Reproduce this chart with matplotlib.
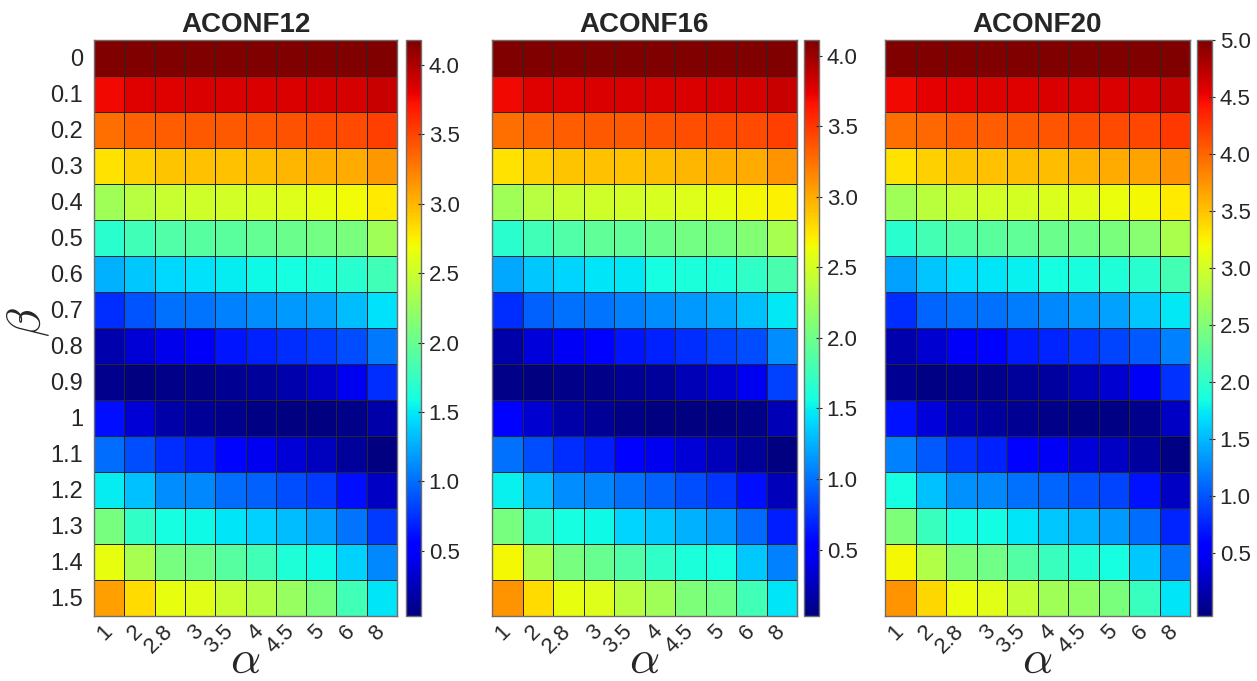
import numpy as np
import matplotlib
matplotlib.use("Agg")
import matplotlib.pyplot as plt

# Axis categories
alpha_labels = ["1", "2", "2.8", "3", "3.5", "4", "4.5", "5", "6", "8"]
beta_labels = ["0", "0.1", "0.2", "0.3", "0.4", "0.5", "0.6", "0.7",
               "0.8", "0.9", "1", "1.1", "1.2", "1.3", "1.4", "1.5"]
titles = ["ACONF12", "ACONF16", "ACONF20"]

# Rows follow beta (top to bottom), columns follow alpha (left to right)
aconf12 = [
    [4.17, 4.17, 4.17, 4.17, 4.18, 4.18, 4.18, 4.18, 4.18, 4.17],
    [3.77, 3.83, 3.83, 3.85, 3.85, 3.85, 3.85, 3.87, 3.87, 3.91],
    [3.31, 3.37, 3.39, 3.41, 3.41, 3.43, 3.45, 3.47, 3.48, 3.52],
    [2.81, 2.89, 2.94, 2.96, 2.96, 2.98, 3.00, 3.03, 3.06, 3.14],
    [2.29, 2.41, 2.48, 2.52, 2.54, 2.56, 2.60, 2.64, 2.69, 2.77],
    [1.69, 1.81, 1.89, 1.92, 1.94, 1.98, 2.02, 2.06, 2.10, 2.29],
    [1.27, 1.36, 1.43, 1.46, 1.52, 1.57, 1.59, 1.63, 1.69, 1.81],
    [0.74, 0.90, 1.01, 1.03, 1.07, 1.13, 1.17, 1.21, 1.32, 1.46],
    [0.20, 0.35, 0.43, 0.47, 0.63, 0.69, 0.74, 0.78, 0.86, 1.05],
    [0.09, 0.04, 0.07, 0.07, 0.11, 0.14, 0.20, 0.29, 0.45, 0.74],
    [0.61, 0.35, 0.18, 0.12, 0.09, 0.05, 0.04, 0.03, 0.07, 0.18],
    [1.00, 0.86, 0.74, 0.67, 0.57, 0.45, 0.35, 0.26, 0.14, 0.03],
    [1.52, 1.34, 1.13, 1.10, 1.00, 0.94, 0.86, 0.78, 0.61, 0.28],
    [2.08, 1.73, 1.59, 1.57, 1.48, 1.40, 1.32, 1.21, 1.03, 0.78],
    [2.65, 2.33, 2.08, 2.04, 1.92, 1.81, 1.65, 1.57, 1.40, 1.10],
    [3.10, 2.84, 2.65, 2.62, 2.48, 2.38, 2.25, 2.10, 1.81, 1.48],
]

aconf16 = [
    [4.10, 4.11, 4.11, 4.11, 4.11, 4.11, 4.11, 4.11, 4.11, 4.10],
    [3.70, 3.76, 3.76, 3.78, 3.78, 3.78, 3.78, 3.80, 3.80, 3.84],
    [3.25, 3.31, 3.33, 3.36, 3.36, 3.38, 3.40, 3.42, 3.42, 3.46],
    [2.76, 2.85, 2.89, 2.91, 2.91, 2.93, 2.95, 2.98, 3.01, 3.09],
    [2.25, 2.37, 2.44, 2.48, 2.50, 2.52, 2.56, 2.60, 2.66, 2.70],
    [1.66, 1.78, 1.85, 1.93, 1.93, 1.99, 2.03, 2.05, 2.11, 2.29],
    [1.21, 1.34, 1.40, 1.46, 1.48, 1.56, 1.60, 1.60, 1.70, 1.83],
    [0.72, 0.93, 0.99, 1.01, 1.05, 1.11, 1.15, 1.21, 1.32, 1.48],
    [0.18, 0.36, 0.46, 0.54, 0.62, 0.68, 0.72, 0.81, 0.85, 1.11],
    [0.07, 0.03, 0.07, 0.07, 0.11, 0.14, 0.23, 0.32, 0.44, 0.81],
    [0.54, 0.32, 0.18, 0.12, 0.07, 0.04, 0.03, 0.03, 0.07, 0.23],
    [0.99, 0.85, 0.72, 0.66, 0.54, 0.44, 0.34, 0.25, 0.14, 0.03],
    [1.50, 1.29, 1.11, 1.08, 0.99, 0.93, 0.85, 0.76, 0.60, 0.25],
    [2.05, 1.70, 1.56, 1.54, 1.40, 1.34, 1.25, 1.15, 0.97, 0.66],
    [2.66, 2.29, 2.05, 1.97, 1.85, 1.70, 1.60, 1.56, 1.34, 1.05],
    [3.09, 2.79, 2.61, 2.56, 2.37, 2.25, 2.07, 2.01, 1.78, 1.46],
]

aconf20 = [
    [4.99, 5.00, 5.00, 5.00, 5.00, 5.00, 5.00, 5.00, 5.00, 4.99],
    [4.50, 4.55, 4.56, 4.57, 4.57, 4.59, 4.59, 4.60, 4.62, 4.67],
    [3.94, 3.99, 4.04, 4.04, 4.07, 4.09, 4.12, 4.15, 4.17, 4.25],
    [3.34, 3.44, 3.49, 3.52, 3.53, 3.54, 3.59, 3.63, 3.67, 3.77],
    [2.71, 2.85, 2.94, 2.99, 3.01, 3.06, 3.09, 3.15, 3.21, 3.29],
    [1.98, 2.13, 2.22, 2.26, 2.31, 2.36, 2.41, 2.46, 2.54, 2.76],
    [1.38, 1.55, 1.67, 1.71, 1.78, 1.86, 1.87, 1.91, 1.98, 2.13],
    [0.80, 1.08, 1.15, 1.15, 1.20, 1.27, 1.35, 1.38, 1.55, 1.73],
    [0.15, 0.32, 0.50, 0.60, 0.70, 0.77, 0.83, 0.93, 1.03, 1.23],
    [0.04, -0.03, 0.02, 0.02, 0.07, 0.10, 0.22, 0.32, 0.47, 0.83],
    [0.67, 0.36, 0.15, 0.10, 0.04, 0.00, -0.02, -0.03, 0.02, 0.25],
    [1.23, 1.03, 0.83, 0.75, 0.60, 0.47, 0.36, 0.25, 0.10, -0.02],
    [1.86, 1.53, 1.30, 1.27, 1.15, 1.08, 0.98, 0.93, 0.67, 0.25],
    [2.49, 2.08, 1.86, 1.83, 1.71, 1.58, 1.48, 1.35, 1.13, 0.77],
    [3.21, 2.81, 2.49, 2.41, 2.22, 2.08, 1.93, 1.86, 1.58, 1.15],
    [3.74, 3.39, 3.15, 3.09, 2.89, 2.71, 2.61, 2.46, 2.08, 1.71],
]

color_limits = [(0.03, 4.18), (0.03, 4.11), (-0.05, 5.0)]
cbar_ticks = [
    [0.5, 1.0, 1.5, 2.0, 2.5, 3.0, 3.5, 4.0],
    [0.5, 1.0, 1.5, 2.0, 2.5, 3.0, 3.5, 4.0],
    [0.5, 1.0, 1.5, 2.0, 2.5, 3.0, 3.5, 4.0, 4.5, 5.0],
]

plt.rcParams["font.family"] = ["Liberation Sans", "DejaVu Sans"]
plt.rcParams["mathtext.fontset"] = "cm"

TEXT = "#262626"
EDGE = "#262626"

fig = plt.figure(figsize=(12.57, 6.81), dpi=100)
W, H = 1257.0, 681.0
top_px, bottom_px = 40.0, 616.0
heat_x = [(94, 397), (492, 797), (885, 1190)]
cbar_x = [(406, 421), (804, 819), (1197, 1212)]

datasets = [aconf12, aconf16, aconf20]
nrows, ncols = len(beta_labels), len(alpha_labels)

for i, (data, title) in enumerate(zip(datasets, titles)):
    x0, x1 = heat_x[i]
    ax = fig.add_axes([x0 / W, (H - bottom_px) / H, (x1 - x0) / W,
                       (bottom_px - top_px) / H])
    vmin, vmax = color_limits[i]
    mesh = ax.pcolormesh(np.arange(ncols + 1), np.arange(nrows + 1),
                         np.array(data), cmap="jet", vmin=vmin, vmax=vmax,
                         edgecolors=EDGE, linewidth=0.6)
    ax.set_xlim(0, ncols)
    ax.set_ylim(nrows, 0)
    ax.set_title(title, fontsize=20, fontweight="bold", color=TEXT, pad=6)

    ax.set_xticks(np.arange(ncols) + 0.5)
    ax.set_xticklabels(alpha_labels, rotation=45, ha="right", va="center",
                       rotation_mode="anchor", fontsize=16, color=TEXT)
    ax.tick_params(axis="x", length=0, pad=9)

    # alpha label placed in figure pixels below the rotated tick labels
    fig.text((x0 + x1) / 2 / W, 8 / H, r"$\alpha$", fontsize=34,
             color=TEXT, ha="center", va="baseline")

    ax.set_yticks(np.arange(nrows) + 0.5)
    if i == 0:
        ax.set_yticklabels(beta_labels, fontsize=17, color=TEXT)
        ax.tick_params(axis="y", length=0, pad=8)
        fig.text(28 / W, (H - 322) / H, r"$\beta$", fontsize=34, color=TEXT,
                 rotation=90, ha="center", va="center")
    else:
        ax.set_yticklabels([])
        ax.tick_params(axis="y", length=0)

    for sp in ax.spines.values():
        sp.set_color("#6e6e6e")
        sp.set_linewidth(1.0)

    c0, c1 = cbar_x[i]
    cax = fig.add_axes([c0 / W, (H - bottom_px) / H, (c1 - c0) / W,
                        (bottom_px - top_px) / H])
    cb = fig.colorbar(mesh, cax=cax)
    cb.set_ticks(cbar_ticks[i])
    cb.set_ticklabels([f"{t:.1f}" for t in cbar_ticks[i]])
    cax.tick_params(labelsize=16, colors=TEXT, direction="inout", length=5,
                    width=0.8, pad=3)
    cb.outline.set_edgecolor("#6e6e6e")
    cb.outline.set_linewidth(1.0)

fig.savefig("out.png", dpi=100, facecolor="white")
